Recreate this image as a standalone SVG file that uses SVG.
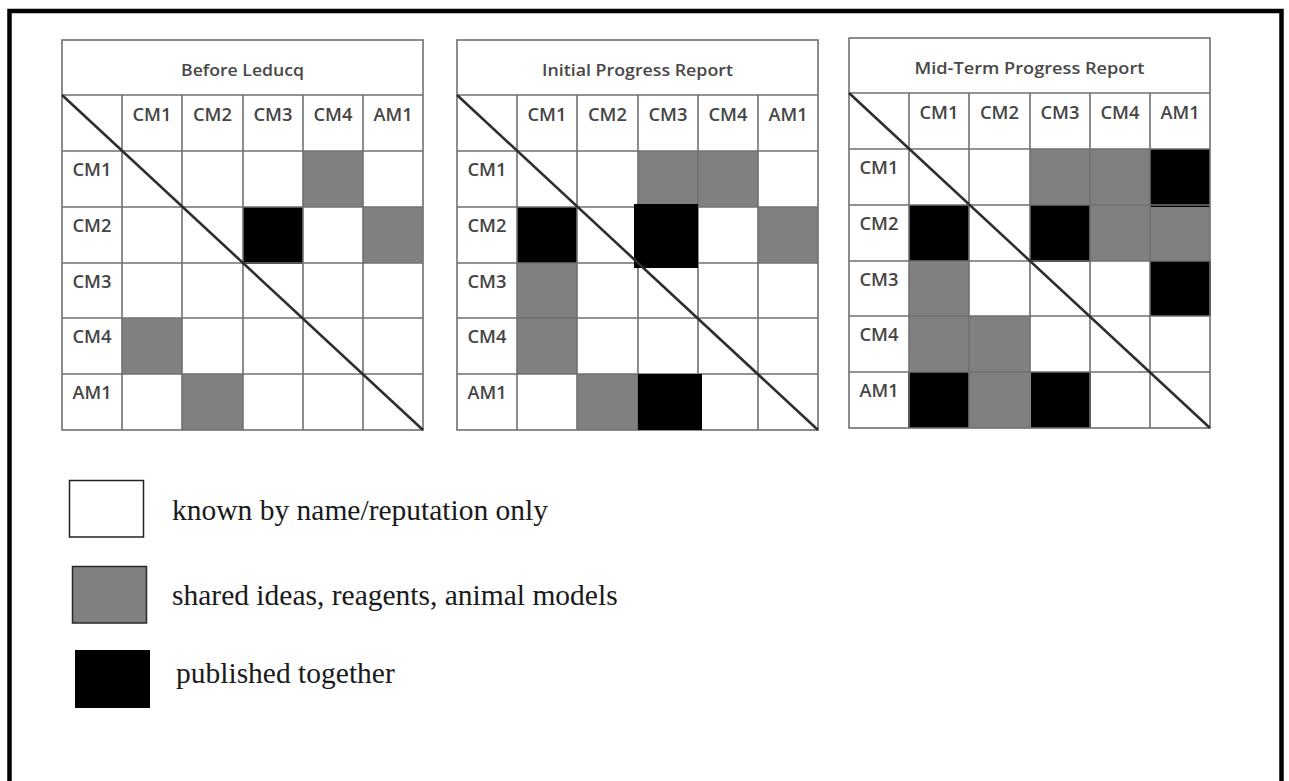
<svg xmlns="http://www.w3.org/2000/svg" width="1289" height="781" viewBox="0 0 1289 781">
<style>
.bg{fill:#ffffff}
.frame{fill:none;stroke:#000;stroke-width:4.5}
.cellbox{fill:#ffffff}
.g{fill:#808080}
.b{fill:#000000}
.grid{fill:none;stroke:#707070;stroke-width:1.6}
.diag{stroke:#2e2e2e;stroke-width:2.6;fill:none}
.title{font-family:"Open Sans","Liberation Sans",sans-serif;font-size:17px;font-weight:600;fill:#484848;text-anchor:middle}
.lab{font-family:"Open Sans","Liberation Sans",sans-serif;font-size:18.5px;font-weight:600;fill:#454545;text-anchor:middle}
.leg{font-family:"Liberation Serif","Times New Roman",serif;font-size:29.5px;fill:#1a1a1a}
</style>
<defs>
<g id="gridlines">
<rect class="grid" x="0" y="0" width="361" height="390"/>
<path class="grid" d="M0 55H361M0 111H361M0 167H361M0 223H361M0 278H361M0 334H361M60 55V390M120 55V390M181 55V390M241 55V390M301 55V390"/>
</g>
<g id="labels">
<text class="lab" x="90" y="81" textLength="39" lengthAdjust="spacingAndGlyphs">CM1</text>
<text class="lab" x="150.5" y="81" textLength="39" lengthAdjust="spacingAndGlyphs">CM2</text>
<text class="lab" x="211" y="81" textLength="39" lengthAdjust="spacingAndGlyphs">CM3</text>
<text class="lab" x="271" y="81" textLength="39" lengthAdjust="spacingAndGlyphs">CM4</text>
<text class="lab" x="331" y="81" textLength="39" lengthAdjust="spacingAndGlyphs">AM1</text>
<text class="lab" x="30" y="136" textLength="39" lengthAdjust="spacingAndGlyphs">CM1</text>
<text class="lab" x="30" y="192" textLength="39" lengthAdjust="spacingAndGlyphs">CM2</text>
<text class="lab" x="30" y="248" textLength="39" lengthAdjust="spacingAndGlyphs">CM3</text>
<text class="lab" x="30" y="303" textLength="39" lengthAdjust="spacingAndGlyphs">CM4</text>
<text class="lab" x="30" y="359" textLength="39" lengthAdjust="spacingAndGlyphs">AM1</text>
</g>
</defs>
<rect class="bg" x="0" y="0" width="1289" height="781"/>
<rect class="frame" x="9.5" y="11" width="1272" height="800"/>

<g id="matrix-before-leducq" transform="translate(62,40)">
<rect class="cellbox" x="0" y="0" width="361" height="390"/>
<rect class="g" x="241" y="111" width="60" height="56"/>
<rect class="b" x="181" y="167" width="60" height="57"/>
<rect class="g" x="301" y="167" width="60" height="56"/>
<rect class="g" x="60" y="278" width="60" height="56"/>
<rect class="g" x="120" y="334" width="61" height="56"/>
<use href="#gridlines"/>
<line class="diag" x1="0" y1="55" x2="361" y2="390"/>
<text class="title" x="180.5" y="36" textLength="123" lengthAdjust="spacingAndGlyphs">Before Leducq</text>
<use href="#labels"/>
</g>

<g id="matrix-initial-progress-report" transform="translate(457,40)">
<rect class="cellbox" x="0" y="0" width="361" height="390"/>
<rect class="g" x="181" y="111" width="60" height="56"/>
<rect class="g" x="241" y="111" width="60" height="56"/>
<rect class="b" x="60" y="167" width="60" height="56"/>
<rect class="g" x="301" y="167" width="60" height="56"/>
<rect class="g" x="60" y="223" width="60" height="55"/>
<rect class="g" x="60" y="278" width="60" height="56"/>
<rect class="g" x="120" y="334" width="61" height="56"/>
<use href="#gridlines"/>
<rect class="b" x="177" y="164" width="64" height="64"/>
<rect class="b" x="181" y="334" width="64" height="56"/>
<line class="diag" x1="0" y1="55" x2="361" y2="390"/>
<text class="title" x="180.5" y="36" textLength="191" lengthAdjust="spacingAndGlyphs">Initial Progress Report</text>
<use href="#labels"/>
</g>

<g id="matrix-mid-term-progress-report" transform="translate(849,38)">
<rect class="cellbox" x="0" y="0" width="361" height="390"/>
<rect class="g" x="181" y="111" width="60" height="56"/>
<rect class="g" x="241" y="111" width="60" height="56"/>
<rect class="b" x="301" y="111" width="60" height="58"/>
<rect class="b" x="60" y="167" width="60" height="56"/>
<rect class="b" x="181" y="167" width="60" height="57"/>
<rect class="g" x="241" y="167" width="60" height="56"/>
<rect class="g" x="301" y="169" width="60" height="54"/>
<rect class="g" x="60" y="223" width="60" height="55"/>
<rect class="b" x="301" y="223" width="61" height="55"/>
<rect class="g" x="60" y="278" width="60" height="56"/>
<rect class="g" x="120" y="278" width="61" height="56"/>
<rect class="b" x="59" y="334" width="61" height="56"/>
<rect class="g" x="120" y="334" width="61" height="56"/>
<rect class="b" x="182" y="334" width="60" height="56"/>
<use href="#gridlines"/>
<line class="diag" x1="0" y1="55" x2="361" y2="390"/>
<text class="title" x="180.5" y="36" textLength="230" lengthAdjust="spacingAndGlyphs">Mid-Term Progress Report</text>
<use href="#labels"/>
</g>

<g id="legend">
<g id="legend-known">
<rect x="69.5" y="480.5" width="74" height="56.5" fill="#ffffff" stroke="#222" stroke-width="1.5"/>
<text class="leg" x="172" y="520">known by name/reputation only</text>
</g>
<g id="legend-shared">
<rect x="72.5" y="566.5" width="74" height="56.5" fill="#808080" stroke="#2a2a2a" stroke-width="1.5"/>
<text class="leg" x="172" y="605">shared ideas, reagents, animal models</text>
</g>
<g id="legend-published">
<rect x="75" y="650" width="75" height="58" fill="#000"/>
<text class="leg" x="176" y="683">published together</text>
</g>
</g>
</svg>
